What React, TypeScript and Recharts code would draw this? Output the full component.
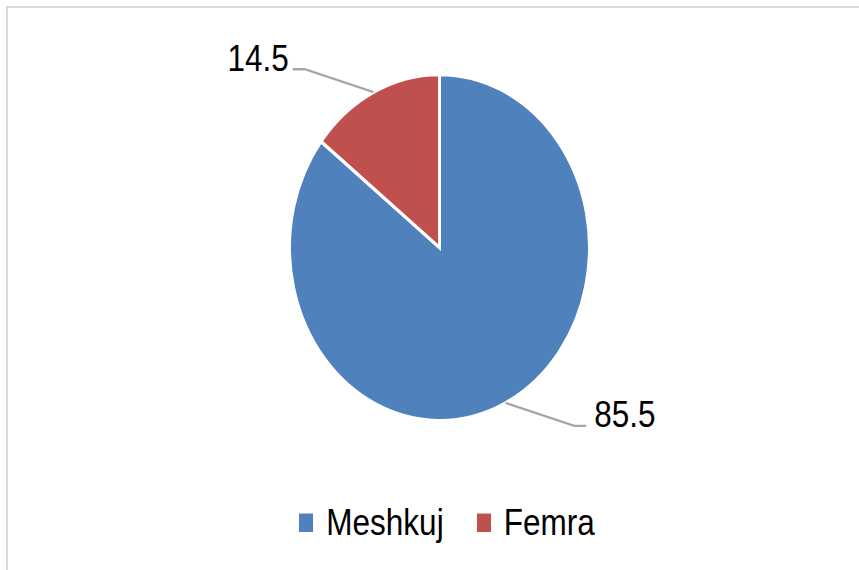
import React from "react";
import { PieChart, Pie, Cell, Legend } from "recharts";

const categories = ["Meshkuj", "Femra"];
const shares = [85.5, 14.5];
const colors = ["#4F81BD", "#C0504D"];

const data = categories.map((name, i) => ({ name, value: shares[i] }));

const RAD = Math.PI / 180;
const FONT = "'Liberation Sans', Arial, sans-serif";
const STRETCH = 1.154; // the original picture is stretched vertically

// leader line: from the arc at mid angle, out to an elbow, then a short horizontal tail
const renderLabel = (props: any) => {
  const { cx, cy, midAngle, outerRadius, value } = props;
  const sx = cx + outerRadius * Math.cos(-midAngle * RAD);
  const sy = cy + outerRadius * Math.sin(-midAngle * RAD);
  const a = midAngle + 15;
  const er = outerRadius + 55;
  const ex = cx + er * Math.cos(-a * RAD);
  const ey = cy + er * Math.sin(-a * RAD);
  const dir = ex < cx ? -1 : 1;
  const tx = ex + dir * 12;
  const gap = dir < 0 ? 4 : 8;
  return (
    <g>
      <polyline
        points={`${sx},${sy} ${ex},${ey} ${tx},${ey}`}
        fill="none"
        stroke="#a6a6a6"
        strokeWidth={2}
      />
      <text
        x={tx + dir * gap}
        y={ey - 10}
        textAnchor={dir < 0 ? "end" : "start"}
        dominantBaseline="central"
        fill="#000"
        fontSize={31.5}
        fontFamily={FONT}
      >
        {value}
      </text>
    </g>
  );
};

const renderLegend = () => (
  <div
    style={{
      display: "flex",
      justifyContent: "center",
      alignItems: "center",
      height: 30,
      paddingLeft: 35,
      fontFamily: FONT,
      fontSize: 31.5,
      color: "#000",
    }}
  >
    {categories.map((c, i) => (
      <div key={c} style={{ display: "flex", alignItems: "center", marginRight: i === 0 ? 33 : 0 }}>
        <span style={{ width: 14, height: 15.5, background: colors[i], marginRight: 13, display: "inline-block" }} />
        <span>{c}</span>
      </div>
    ))}
  </div>
);

export default function App() {
  return (
    <div style={{ position: "absolute", left: 0, top: 0, width: 859, height: 570, overflow: "hidden", background: "#fff" }}>
      <div
        style={{
          position: "absolute",
          left: 6,
          top: 6,
          width: 900,
          height: 600,
          borderTop: "2px solid #d9d9d9",
          borderLeft: "2px solid #d9d9d9",
        }}
      />
      <div style={{ position: "absolute", left: 0, top: 0, transform: `scaleY(${STRETCH})`, transformOrigin: "0 0" }}>
        <PieChart width={859} height={494} margin={{ top: 0, right: 0, bottom: 0, left: 0 }}>
          <Pie
            data={data}
            dataKey="value"
            nameKey="name"
            cx={439.5}
            cy={214.5}
            outerRadius={150}
            startAngle={90}
            endAngle={-270}
            stroke="#fff"
            strokeWidth={3}
            label={renderLabel}
            labelLine={false}
            isAnimationActive={false}
          >
            {data.map((d, i) => (
              <Cell key={d.name} fill={colors[i]} />
            ))}
          </Pie>
          <Legend content={renderLegend} wrapperStyle={{ top: 438, left: 0, width: 859 }} />
        </PieChart>
      </div>
    </div>
  );
}
